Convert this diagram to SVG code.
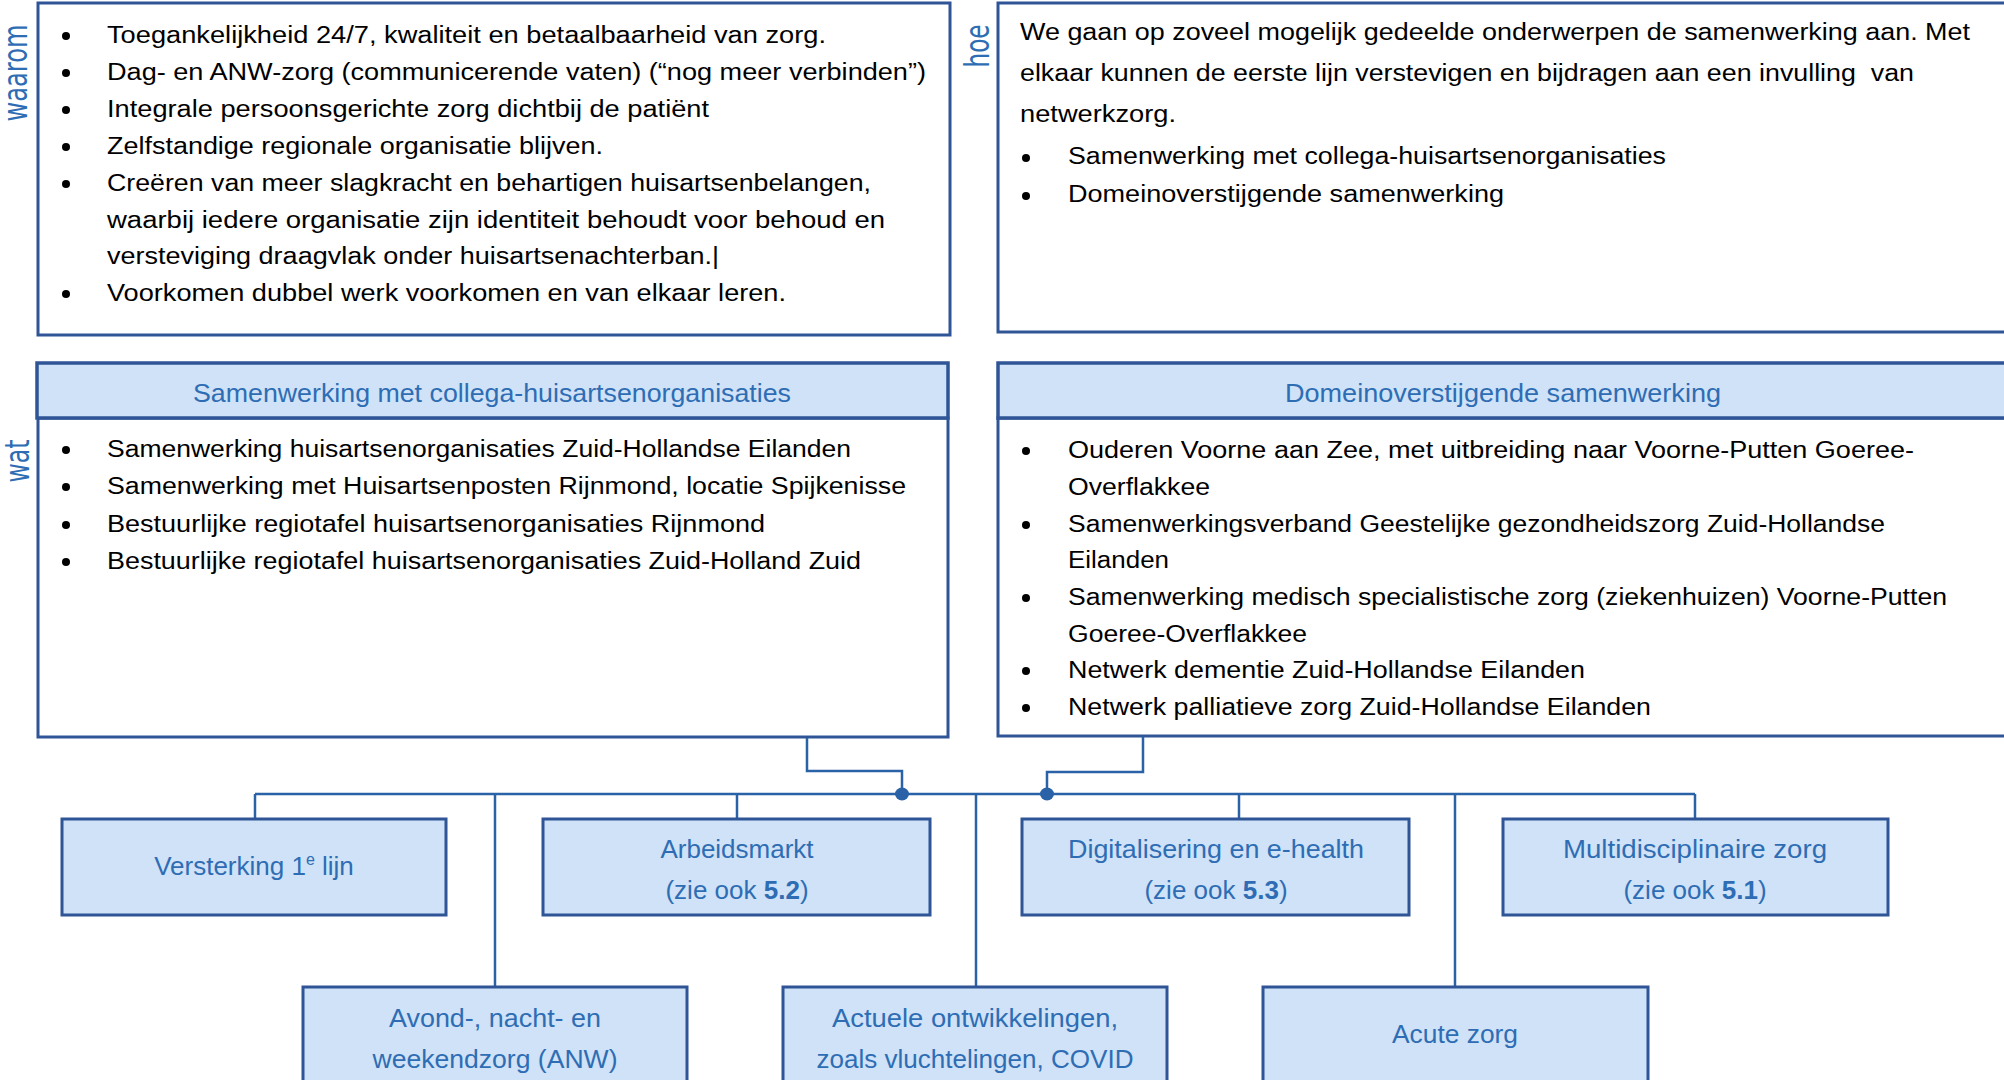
<svg xmlns="http://www.w3.org/2000/svg" width="2004" height="1080" viewBox="0 0 2004 1080">
<style>
.panel{fill:#ffffff;stroke:#2F5597;stroke-width:3}
.head{fill:#CFE2F7;stroke:#2F5597;stroke-width:3.5}
.node{fill:#CFE2F7;stroke:#2F5597;stroke-width:3}
.t{font-family:"Liberation Sans",Arial,sans-serif;font-size:23px;fill:#000000}
.b{font-family:"Liberation Sans",Arial,sans-serif;font-size:26px;fill:#2E6DB4;text-anchor:middle}
.h{font-family:"Liberation Sans",Arial,sans-serif;font-size:25px;fill:#2E6DB4;text-anchor:middle}
.lab{font-family:"DejaVu Sans",Verdana,sans-serif;font-size:33px;fill:#2E6DB4;text-anchor:middle}
.dot{fill:#000000}
.conn{fill:none;stroke:#2A62A8;stroke-width:2.5}
.jn{fill:#2A62A8}
</style>
<rect width="2004" height="1080" fill="#ffffff"/>

<g id="labels">
<text class="lab" transform="translate(27,73) rotate(-90)" textLength="97" lengthAdjust="spacingAndGlyphs">waarom</text>
<text class="lab" transform="translate(989,46) rotate(-90)" textLength="43" lengthAdjust="spacingAndGlyphs">hoe</text>
<text class="lab" transform="translate(29,461) rotate(-90)" textLength="43" lengthAdjust="spacingAndGlyphs">wat</text>
</g>

<g id="waarom">
<rect class="panel" x="38" y="3" width="912" height="332"/>
<circle class="dot" cx="66" cy="36" r="4"/>
<text class="t" x="107" y="43" textLength="719" lengthAdjust="spacingAndGlyphs">Toegankelijkheid 24/7, kwaliteit en betaalbaarheid van zorg.</text>
<circle class="dot" cx="66" cy="73" r="4"/>
<text class="t" x="107" y="80" textLength="819" lengthAdjust="spacingAndGlyphs">Dag- en ANW-zorg (communicerende vaten) (“nog meer verbinden”)</text>
<circle class="dot" cx="66" cy="110" r="4"/>
<text class="t" x="107" y="117" textLength="602" lengthAdjust="spacingAndGlyphs">Integrale persoonsgerichte zorg dichtbij de patiënt</text>
<circle class="dot" cx="66" cy="147" r="4"/>
<text class="t" x="107" y="154" textLength="496" lengthAdjust="spacingAndGlyphs">Zelfstandige regionale organisatie blijven.</text>
<circle class="dot" cx="66" cy="184" r="4"/>
<text class="t" x="107" y="191" textLength="764" lengthAdjust="spacingAndGlyphs">Creëren van meer slagkracht en behartigen huisartsenbelangen,</text>
<text class="t" x="107" y="228" textLength="778" lengthAdjust="spacingAndGlyphs">waarbij iedere organisatie zijn identiteit behoudt voor behoud en</text>
<text class="t" x="107" y="264" textLength="612" lengthAdjust="spacingAndGlyphs">versteviging draagvlak onder huisartsenachterban.|</text>
<circle class="dot" cx="66" cy="294" r="4"/>
<text class="t" x="107" y="301" textLength="679" lengthAdjust="spacingAndGlyphs">Voorkomen dubbel werk voorkomen en van elkaar leren.</text>
</g>

<g id="hoe">
<rect class="panel" x="998" y="3" width="1012" height="329"/>
<text class="t" x="1020" y="40" textLength="950" lengthAdjust="spacingAndGlyphs">We gaan op zoveel mogelijk gedeelde onderwerpen de samenwerking aan. Met</text>
<text class="t" x="1020" y="81" textLength="894" lengthAdjust="spacingAndGlyphs">elkaar kunnen de eerste lijn verstevigen en bijdragen aan een invulling &#160;van</text>
<text class="t" x="1020" y="122" textLength="156" lengthAdjust="spacingAndGlyphs">netwerkzorg.</text>
<circle class="dot" cx="1026" cy="158" r="4"/>
<text class="t" x="1068" y="164" textLength="598" lengthAdjust="spacingAndGlyphs">Samenwerking met collega-huisartsenorganisaties</text>
<circle class="dot" cx="1026" cy="196" r="4"/>
<text class="t" x="1068" y="202" textLength="436" lengthAdjust="spacingAndGlyphs">Domeinoverstijgende samenwerking</text>
</g>

<g id="wat-collega">
<rect class="panel" x="38" y="418" width="910" height="319"/>
<rect class="head" x="37" y="363" width="911" height="55"/>
<text class="h" x="492" y="402" textLength="598" lengthAdjust="spacingAndGlyphs">Samenwerking met collega-huisartsenorganisaties</text>
<circle class="dot" cx="66" cy="450" r="4"/>
<text class="t" x="107" y="457" textLength="744" lengthAdjust="spacingAndGlyphs">Samenwerking huisartsenorganisaties Zuid-Hollandse Eilanden</text>
<circle class="dot" cx="66" cy="487" r="4"/>
<text class="t" x="107" y="494" textLength="799" lengthAdjust="spacingAndGlyphs">Samenwerking met Huisartsenposten Rijnmond, locatie Spijkenisse</text>
<circle class="dot" cx="66" cy="525" r="4"/>
<text class="t" x="107" y="532" textLength="658" lengthAdjust="spacingAndGlyphs">Bestuurlijke regiotafel huisartsenorganisaties Rijnmond</text>
<circle class="dot" cx="66" cy="562" r="4"/>
<text class="t" x="107" y="569" textLength="754" lengthAdjust="spacingAndGlyphs">Bestuurlijke regiotafel huisartsenorganisaties Zuid-Holland Zuid</text>
</g>

<g id="wat-domein">
<rect class="panel" x="998" y="418" width="1012" height="318"/>
<rect class="head" x="998" y="363" width="1012" height="55"/>
<text class="h" x="1503" y="402" textLength="436" lengthAdjust="spacingAndGlyphs">Domeinoverstijgende samenwerking</text>
<circle class="dot" cx="1026" cy="451" r="4"/>
<text class="t" x="1068" y="458" textLength="846" lengthAdjust="spacingAndGlyphs">Ouderen Voorne aan Zee, met uitbreiding naar Voorne-Putten Goeree-</text>
<text class="t" x="1068" y="495" textLength="142" lengthAdjust="spacingAndGlyphs">Overflakkee</text>
<circle class="dot" cx="1026" cy="525" r="4"/>
<text class="t" x="1068" y="532" textLength="817" lengthAdjust="spacingAndGlyphs">Samenwerkingsverband Geestelijke gezondheidszorg Zuid-Hollandse</text>
<text class="t" x="1068" y="568" textLength="101" lengthAdjust="spacingAndGlyphs">Eilanden</text>
<circle class="dot" cx="1026" cy="598" r="4"/>
<text class="t" x="1068" y="605" textLength="879" lengthAdjust="spacingAndGlyphs">Samenwerking medisch specialistische zorg (ziekenhuizen) Voorne-Putten</text>
<text class="t" x="1068" y="642" textLength="239" lengthAdjust="spacingAndGlyphs">Goeree-Overflakkee</text>
<circle class="dot" cx="1026" cy="671" r="4"/>
<text class="t" x="1068" y="678" textLength="517" lengthAdjust="spacingAndGlyphs">Netwerk dementie Zuid-Hollandse Eilanden</text>
<circle class="dot" cx="1026" cy="708" r="4"/>
<text class="t" x="1068" y="715" textLength="583" lengthAdjust="spacingAndGlyphs">Netwerk palliatieve zorg Zuid-Hollandse Eilanden</text>
</g>

<g id="connectors">
<polyline class="conn" points="807,738 807,771 902,771 902,794"/>
<polyline class="conn" points="1143,737 1143,772 1047,772 1047,794"/>
<line class="conn" x1="255" y1="794" x2="1695" y2="794"/>
<line class="conn" x1="255" y1="794" x2="255" y2="819"/>
<line class="conn" x1="495" y1="794" x2="495" y2="987"/>
<line class="conn" x1="737" y1="794" x2="737" y2="819"/>
<line class="conn" x1="976" y1="794" x2="976" y2="987"/>
<line class="conn" x1="1239" y1="794" x2="1239" y2="819"/>
<line class="conn" x1="1455" y1="794" x2="1455" y2="987"/>
<line class="conn" x1="1695" y1="794" x2="1695" y2="819"/>
<ellipse class="jn" cx="902" cy="794" rx="7" ry="6.5"/>
<ellipse class="jn" cx="1047" cy="794" rx="7" ry="6.5"/>
</g>

<g id="versterking">
<rect class="node" x="62" y="819" width="384" height="96"/>
<text class="b" x="254" y="875">Versterking 1<tspan dy="-10" font-size="16">e</tspan><tspan dy="10"> lijn</tspan></text>
</g>
<g id="arbeidsmarkt">
<rect class="node" x="543" y="819" width="387" height="96"/>
<text class="b" x="737" y="858">Arbeidsmarkt</text>
<text class="b" x="737" y="899">(zie ook <tspan font-weight="bold">5.2</tspan>)</text>
</g>
<g id="digitalisering">
<rect class="node" x="1022" y="819" width="387" height="96"/>
<text class="b" x="1216" y="858" textLength="296" lengthAdjust="spacingAndGlyphs">Digitalisering en e-health</text>
<text class="b" x="1216" y="899">(zie ook <tspan font-weight="bold">5.3</tspan>)</text>
</g>
<g id="multidisciplinair">
<rect class="node" x="1503" y="819" width="385" height="96"/>
<text class="b" x="1695" y="858" textLength="264" lengthAdjust="spacingAndGlyphs">Multidisciplinaire zorg</text>
<text class="b" x="1695" y="899">(zie ook <tspan font-weight="bold">5.1</tspan>)</text>
</g>
<g id="anw">
<rect class="node" x="303" y="987" width="384" height="120"/>
<text class="b" x="495" y="1027" textLength="212" lengthAdjust="spacingAndGlyphs">Avond-, nacht- en</text>
<text class="b" x="495" y="1068" textLength="245" lengthAdjust="spacingAndGlyphs">weekendzorg (ANW)</text>
</g>
<g id="actueel">
<rect class="node" x="783" y="987" width="384" height="120"/>
<text class="b" x="975" y="1027" textLength="286" lengthAdjust="spacingAndGlyphs">Actuele ontwikkelingen,</text>
<text class="b" x="975" y="1068" textLength="317" lengthAdjust="spacingAndGlyphs">zoals vluchtelingen, COVID</text>
</g>
<g id="acute">
<rect class="node" x="1263" y="987" width="385" height="120"/>
<text class="b" x="1455" y="1043" textLength="126" lengthAdjust="spacingAndGlyphs">Acute zorg</text>
</g>
</svg>
